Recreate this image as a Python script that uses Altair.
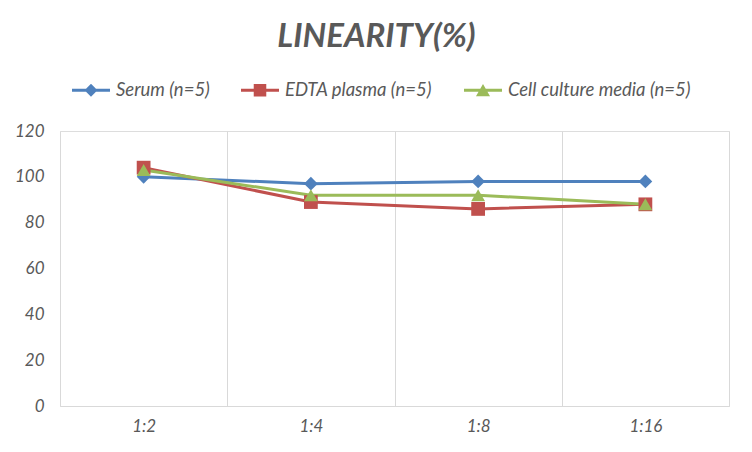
import altair as alt
import pandas as pd

dilutions = ["1:2", "1:4", "1:8", "1:16"]
series_names = ["Serum (n=5)", "EDTA plasma (n=5)", "Cell culture media (n=5)"]
serum = [100, 97, 98, 98]
edta = [104, 89, 86, 88]
cell = [103, 92, 92, 88]
colors = ["#4F81BD", "#C0504D", "#9BBB59"]
y_ticks = [0, 20, 40, 60, 80, 100, 120]

rows = []
for name, vals in zip(series_names, [serum, edta, cell]):
    for i, (d, v) in enumerate(zip(dilutions, vals)):
        rows.append({"series": name, "dilution": d, "value": v, "order": i})
df = pd.DataFrame(rows)

FONT = "Lato"
GREY = "#595959"

# legend symbols: a short line segment with the series marker on it
bar = "M-1,-0.08L1,-0.08L1,0.08L-1,0.08Z"
diamond = "M0,-0.34L0.34,0L0,0.34L-0.34,0Z"
square = "M-0.33,-0.33L0.33,-0.33L0.33,0.33L-0.33,0.33Z"
triangle = "M0,-0.33L0.37,0.31L-0.37,0.31Z"
legend_paths = [bar + diamond, bar + square, bar + triangle]
SYM = 1444

legend = alt.Legend(
    orient="none",
    legendX=12,
    legendY=-60,
    direction="horizontal",
    title=None,
    symbolSize=SYM,
    symbolStrokeWidth=0,
    labelFont=FONT,
    labelFontSize=18.5,
    labelFontStyle="italic",
    labelColor=GREY,
    labelOffset=6,
    labelLimit=400,
    columnPadding=31,
    padding=0,
)

x = alt.X(
    "dilution:N",
    sort=dilutions,
    scale=alt.Scale(type="band", paddingInner=0, paddingOuter=0),
    axis=alt.Axis(
        title=None,
        labelAngle=0,
        tickBand="extent",
        grid=True,
        gridColor="#d9d9d9",
        ticks=False,
        domainColor="#d9d9d9",
        labelFont=FONT,
        labelFontSize=17,
        labelFontStyle="italic",
        labelColor=GREY,
        labelPadding=12,
    ),
)

y = alt.Y(
    "value:Q",
    scale=alt.Scale(domain=[0, 120]),
    axis=alt.Axis(
        title=None,
        values=y_ticks,
        grid=False,
        domain=False,
        ticks=False,
        labelFont=FONT,
        labelFontSize=17,
        labelFontStyle="italic",
        labelColor=GREY,
        labelPadding=16,
    ),
)

color_scale = alt.Scale(domain=series_names, range=colors)

base = alt.Chart(df)

lines = base.mark_line(strokeWidth=3).encode(
    x=x,
    y=y,
    color=alt.Color("series:N", scale=color_scale, legend=None),
    order="order:Q",
)

points = base.mark_point(filled=True, size=190, opacity=1).encode(
    x=x,
    y=y,
    color=alt.Color("series:N", scale=color_scale, legend=None),
    shape=alt.Shape(
        "series:N",
        scale=alt.Scale(domain=series_names, range=["diamond", "square", "triangle-up"]),
        legend=None,
    ),
)

# legend-only layer (no rows drawn): line segment + marker symbols
legend_layer = (
    base.transform_filter("false")
    .mark_point(filled=True, size=SYM, opacity=1)
    .encode(
        x=x,
        y=y,
        color=alt.Color("series:N", scale=color_scale, legend=legend),
        shape=alt.Shape(
            "series:N",
            scale=alt.Scale(domain=series_names, range=legend_paths),
            legend=legend,
        ),
    )
)

chart = (
    alt.layer(lines, points, legend_layer)
    .resolve_scale(color="independent", shape="independent")
    .properties(
        width=669,
        height=275,
        padding={"left": 52, "top": 123, "right": 15, "bottom": 38},
        autosize=alt.AutoSizeParams(type="none"),
        title=alt.TitleParams(
            text="LINEARITY(%)",
            font=FONT,
            fontSize=33,
            fontWeight="bold",
            fontStyle="italic",
            color=GREY,
            anchor="middle",
            frame="group",
            offset=17,
            dx=-18,
        ),
    )
    .configure_view(stroke=None)
    .configure(background="white")
)

chart.save("out.html", embed_options={"renderer": "svg", "actions": False})
